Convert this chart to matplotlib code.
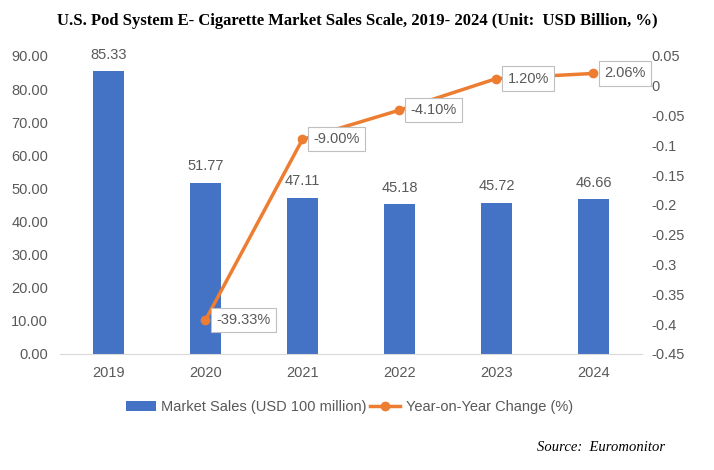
import matplotlib
matplotlib.use('Agg')
import matplotlib.pyplot as plt

years = ['2019', '2020', '2021', '2022', '2023', '2024']
sales = [85.33, 51.77, 47.11, 45.18, 45.72, 46.66]
yoy_years = ['2020', '2021', '2022', '2023', '2024']
yoy = [-0.3933, -0.09, -0.041, 0.012, 0.0206]
yoy_labels = ['-39.33%', '-9.00%', '-4.10%', '1.20%', '2.06%']

blue = '#4472C4'
orange = '#ED7D31'
gray = '#595959'
fs = 10.5

plt.rcParams['font.family'] = ['Liberation Sans', 'DejaVu Sans']

fig = plt.figure(figsize=(7.14, 4.70), dpi=100)
ax = fig.add_axes([0.084, 0.247, 0.815, 0.634])
x = list(range(len(years)))
ax.bar(x, sales, width=0.32, color=blue, label='Market Sales (USD 100 million)', zorder=2)
for xi, v in zip(x, sales):
    ax.annotate(f'{v:.2f}', (xi, v), xytext=(0, 7), textcoords='offset points',
                ha='center', va='bottom', fontsize=fs, color=gray)

ax.set_xlim(-0.5, len(years) - 0.5)
ax.set_ylim(0, 90)
ax.set_yticks(range(0, 91, 10))
ax.set_yticklabels([f'{t:.2f}' for t in range(0, 91, 10)])
ax.set_xticks(x)
ax.set_xticklabels(years)
for s in ['top', 'right', 'left']:
    ax.spines[s].set_visible(False)
ax.spines['bottom'].set_color('#D9D9D9')
ax.tick_params(axis='both', length=0, labelsize=fs, labelcolor=gray)
ax.tick_params(axis='y', pad=8.5)
ax.tick_params(axis='x', pad=9)

ax2 = ax.twinx()
xl = [years.index(y) for y in yoy_years]
ax2.plot(xl, yoy, color=orange, lw=2.5, marker='o', ms=6, label='Year-on-Year Change (%)', zorder=3)
for xi, v, lab in zip(xl, yoy, yoy_labels):
    ax2.annotate(lab, (xi, v), xytext=(8, 0), textcoords='offset points', ha='left', va='center',
                 fontsize=fs, color=gray,
                 bbox=dict(boxstyle='square,pad=0.35', fc='white', ec='#BFBFBF', lw=0.8))
ax2.set_ylim(-0.45, 0.05)
ticks = [0.05, 0, -0.05, -0.1, -0.15, -0.2, -0.25, -0.3, -0.35, -0.4, -0.45]
ax2.set_yticks(ticks)
ax2.set_yticklabels(['0.05', '0', '-0.05', '-0.1', '-0.15', '-0.2', '-0.25', '-0.3', '-0.35', '-0.4', '-0.45'])
for s in ['top', 'right', 'left', 'bottom']:
    ax2.spines[s].set_visible(False)
ax2.tick_params(axis='y', length=0, labelsize=fs, labelcolor=gray, pad=6.5)

h1, l1 = ax.get_legend_handles_labels()
h2, l2 = ax2.get_legend_handles_labels()
fig.legend(h1 + h2, l1 + l2, loc='center', bbox_to_anchor=(0.489, 0.134), ncol=2, frameon=False,
           fontsize=fs, labelcolor=gray, handlelength=2.1, columnspacing=0.2, handletextpad=0.35)

fig.text(0.5, 0.955, 'U.S. Pod System E- Cigarette Market Sales Scale, 2019- 2024 (Unit:  USD Billion, %)',
         ha='center', va='center', fontsize=12, fontweight='bold', family='Liberation Serif')
fig.text(0.931, 0.047, 'Source:  Euromonitor', ha='right', va='center', fontsize=10.5,
         style='italic', family='Liberation Serif')

fig.savefig('out.png', dpi=100)
